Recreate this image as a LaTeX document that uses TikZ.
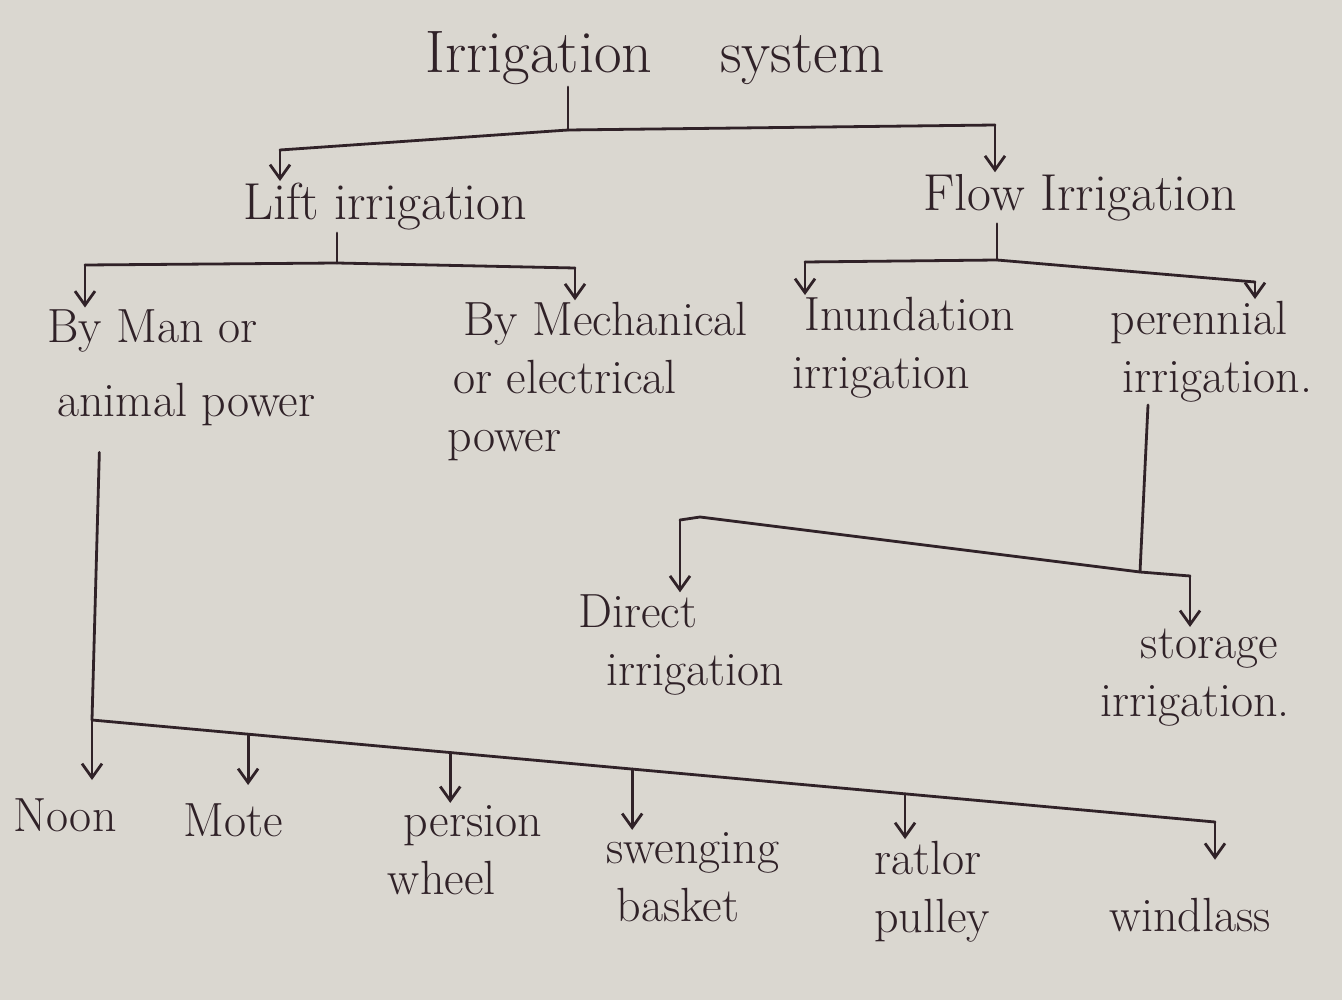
\documentclass[tikz,border=0pt]{standalone}
\usetikzlibrary{arrows.meta,calc}
\definecolor{paper}{RGB}{218,215,208}
\definecolor{ink}{RGB}{48,34,40}
\tikzset{
 lbl/.style={text=ink, font=\fontsize{24}{29}\selectfont, inner sep=1pt},
 ttl/.style={text=ink, font=\fontsize{30}{36}\selectfont, inner sep=1pt},
 wire/.style={draw=ink, line width=1.4pt, line cap=round, line join=round},
 arr/.style={wire, -{Straight Barb[length=7pt,width=10pt]}},
}
\begin{document}
\begin{tikzpicture}[x=0.5pt,y=-0.5pt]
\fill[paper] (0,0) rectangle (1342,1000);
\useasboundingbox (0,0) rectangle (1342,1000);

% nodes
\node[ttl] (sys) at (655,58) {Irrigation\hspace{34pt}system};
\node[lbl, font=\fontsize{26}{30}\selectfont] (lift) at (385,207) {Lift irrigation};
\node[lbl, font=\fontsize{26}{30}\selectfont] (flow) at (1080,198) {Flow Irrigation};
\node[lbl, anchor=west, align=left, font=\fontsize{24}{37}\selectfont] (man) at (45,368) {By Man or\\\hspace*{5pt}animal power};
\node[lbl, anchor=west, align=left] (mech) at (445,382) {\hspace*{8pt}By Mechanical\\\hspace*{3pt}or electrical\\power};
\node[lbl, anchor=west, align=left] (inund) at (790,348) {\hspace*{6pt}Inundation\\irrigation};
\node[lbl, anchor=west, align=left] (peren) at (1108,352) {perennial\\\hspace*{6pt}irrigation.};
\node[lbl, anchor=west, align=left] (direct) at (576,645) {Direct\\\hspace*{14pt}irrigation};
\node[lbl, anchor=east, align=right] (storage) at (1292,678) {storage\hspace*{6pt}\\irrigation.};
\node[lbl] (noon) at (65,815) {Noon};
\node[lbl] (mote) at (233,820) {Mote};
\node[lbl, align=left] (persian) at (465,850) {\hspace*{8pt}persion\\wheel};
\node[lbl, align=left] (swing) at (693,877) {swenging\\\hspace*{5pt}basket};
\node[lbl, align=left] (ratlor) at (932,892) {ratlor\\pulley};
\node[lbl] (wind) at (1190,915) {windlass};

% level 1
\coordinate (j0) at (568,130);
\coordinate (c1) at (280,150);
\coordinate (c2) at (995,125);
\draw[wire] (j0 |- sys.south) -- (j0);
\draw[wire] (j0) -- (c1);
\draw[arr] (c1) -- (c1 |- lift.north);
\draw[wire] (j0) -- (c2);
\draw[arr] (c2) -- (c2 |- flow.north);

% lift branch
\coordinate (j1) at (337,263);
\coordinate (c3) at (85,265);
\coordinate (c4) at (575,268);
\draw[wire] (j1 |- lift.south) -- (j1);
\draw[wire] (c3) -- (j1) -- (c4);
\draw[arr] (c3) -- (c3 |- man.north);
\draw[arr] (c4) -- (c4 |- mech.north);

% flow branch
\coordinate (j2) at (997,260);
\coordinate (c5) at (805,262);
\coordinate (c6) at (1255,282);
\draw[wire] (j2 |- flow.south) -- (j2);
\draw[wire] (c5) -- (j2) -- (c6);
\draw[arr] (c5) -- (c5 |- inund.north);
\draw[arr] (c6) -- (c6 |- peren.north);

% perennial branch
\coordinate (j3) at (1140,572);
\coordinate (c7) at (680,520);
\coordinate (c8) at (1190,576);
\coordinate (k3) at (1148,0);
\draw[wire] (k3 |- peren.south) -- (j3);
\draw[wire] (c7) -- (700,517) -- (j3) -- (c8);
\draw[arr] (c7) -- (c7 |- direct.north);
\draw[arr] (c8) -- (c8 |- storage.north);

% man/animal power branch
\coordinate (j4) at (92,720);
\coordinate (k4) at (100,0);
\coordinate (c9) at (1215,822);
\draw[wire, shorten <=12pt] (k4 |- man.south) -- (j4);
\draw[wire] (j4) -- (c9);
\coordinate (b1) at ($(j4)!0.139!(c9)$);
\coordinate (b2) at ($(j4)!0.319!(c9)$);
\coordinate (b3) at ($(j4)!0.481!(c9)$);
\coordinate (b4) at ($(j4)!0.724!(c9)$);
\draw[arr, shorten >=8pt] (j4) -- (j4 |- noon.north);
\draw[arr, shorten >=8pt] (b1) -- (b1 |- mote.north);
\draw[arr] (b2) -- (b2 |- persian.north);
\draw[arr] (b3) -- (b3 |- swing.north);
\draw[arr] (b4) -- (b4 |- ratlor.north);
\draw[arr, shorten >=18pt] (c9) -- (c9 |- wind.north);
\end{tikzpicture}
\end{document}
